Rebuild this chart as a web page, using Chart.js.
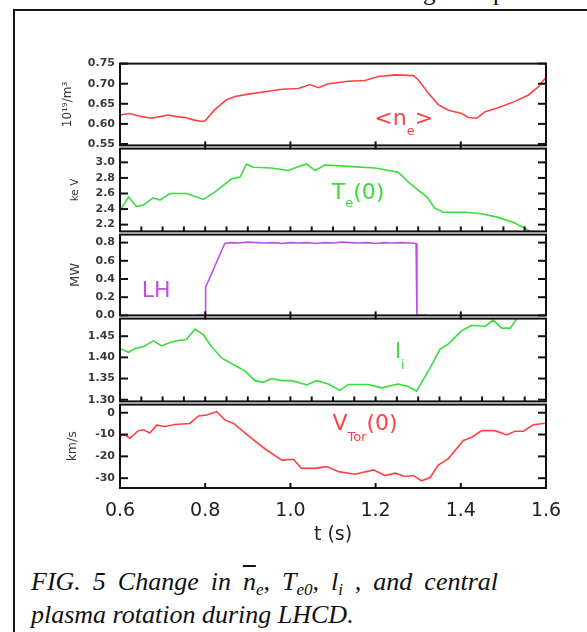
<!DOCTYPE html>
<html>
<head>
<meta charset="utf-8">
<script src="https://cdn.jsdelivr.net/npm/chart.js@4.4.1/dist/chart.umd.min.js"></script>
<style>
  html, body { margin: 0; padding: 0; background: #fff; }
  #wrap { position: relative; width: 587px; height: 632px; overflow: hidden; background: #fff; }
  .caption { position: absolute; left: 31px; top: 565px; font: italic 26px "Liberation Serif", "Times New Roman", serif; line-height: 33px; color: #111; white-space: nowrap; }
  .caption .l1 { width: 467px; text-align: justify; text-align-last: justify; white-space: normal; }
  .caption sub { font-size: 17px; line-height: 0; vertical-align: -5px; }
  .topt { position: absolute; top: -21px; font: 25px "Liberation Serif", serif; line-height: 25px; color: #111; }
</style>
</head>
<body>
<div id="wrap">
  <div style="position:absolute;left:13px;top:9px;width:574px;height:2px;background:#151515"></div>
  <div style="position:absolute;left:13px;top:9px;width:2px;height:623px;background:#151515"></div>
  <div class="topt" style="left:423px">g</div>
  <div class="topt" style="left:493px">p</div>
  <div class="caption"><div class="l1">FIG. 5 Change in <span style="text-decoration:overline">n</span><sub>e</sub>, T<sub>e0</sub>, l<sub>i</sub> , and central</div><div>plasma rotation during LHCD.</div></div>
</div>
<script>
// ---------- data ----------
const xTickVals = [0.6, 0.8, 1.0, 1.2, 1.4, 1.6];
const xMajorMarks = [0.8, 1.0, 1.2, 1.4];
const xMinorMarks = [0.65, 0.7, 0.75, 0.8, 0.85, 0.9, 0.95, 1.0, 1.05, 1.1, 1.15, 1.2, 1.25, 1.3, 1.35, 1.4, 1.45, 1.5, 1.55];

const neTicks = [0.55, 0.60, 0.65, 0.70, 0.75];
const teTicks = [2.2, 2.4, 2.6, 2.8, 3.0];
const lhTicks = [0.0, 0.2, 0.4, 0.6, 0.8];
const liTicks = [1.30, 1.35, 1.40, 1.45];
const vtTicks = [-30, -20, -10, 0];

const neT = [0.600,0.623,0.651,0.674,0.694,0.713,0.733,0.753,0.772,0.792,0.800,0.823,0.850,0.870,0.901,0.940,0.980,1.019,1.046,1.066,1.089,1.136,1.175,1.206,1.246,1.289,1.300,1.324,1.347,1.371,1.402,1.418,1.437,1.457,1.488,1.527,1.559,1.582,1.600];
const neV = [0.622,0.626,0.618,0.614,0.618,0.622,0.618,0.616,0.610,0.606,0.608,0.636,0.660,0.668,0.674,0.680,0.686,0.688,0.698,0.690,0.700,0.706,0.708,0.718,0.722,0.720,0.710,0.676,0.648,0.634,0.626,0.616,0.614,0.630,0.640,0.656,0.672,0.692,0.716];

const teT = [0.600,0.620,0.639,0.655,0.678,0.694,0.717,0.756,0.796,0.823,0.862,0.882,0.897,0.913,0.956,0.995,1.015,1.038,1.058,1.081,1.136,1.199,1.253,1.277,1.300,1.320,1.339,1.359,1.410,1.449,1.488,1.527,1.562,1.570];
const teV = [2.377,2.558,2.432,2.453,2.545,2.516,2.600,2.600,2.524,2.621,2.789,2.811,2.979,2.937,2.928,2.895,2.937,2.979,2.895,2.966,2.949,2.928,2.874,2.747,2.642,2.558,2.411,2.360,2.360,2.339,2.293,2.221,2.116,2.060];

const lhT = [0.780,0.800,0.801,0.846,0.860,0.880,0.900,0.920,0.940,0.960,0.980,1.000,1.020,1.040,1.060,1.080,1.100,1.120,1.140,1.160,1.180,1.200,1.220,1.240,1.260,1.280,1.295,1.297,1.320];
const lhV = [0.000,0.000,0.310,0.790,0.800,0.795,0.805,0.800,0.795,0.800,0.790,0.800,0.795,0.800,0.790,0.800,0.795,0.805,0.800,0.795,0.800,0.790,0.800,0.795,0.800,0.795,0.790,0.000,0.000];

const liT = [0.600,0.620,0.635,0.655,0.678,0.698,0.717,0.737,0.756,0.776,0.796,0.815,0.839,0.866,0.893,0.917,0.936,0.956,0.980,1.003,1.038,1.062,1.089,1.116,1.136,1.183,1.214,1.253,1.277,1.296,1.328,1.351,1.371,1.402,1.426,1.457,1.476,1.496,1.516,1.535,1.550];
const liV = [1.421,1.412,1.421,1.425,1.439,1.427,1.435,1.440,1.442,1.467,1.453,1.425,1.398,1.383,1.368,1.345,1.341,1.350,1.345,1.345,1.335,1.345,1.337,1.322,1.336,1.336,1.328,1.337,1.331,1.320,1.375,1.419,1.432,1.463,1.476,1.473,1.488,1.469,1.469,1.496,1.520];

const vtT = [0.600,0.612,0.623,0.643,0.655,0.670,0.686,0.706,0.729,0.764,0.784,0.803,0.827,0.846,0.866,0.901,0.940,0.980,1.007,1.026,1.058,1.085,1.113,1.152,1.195,1.222,1.246,1.269,1.289,1.308,1.328,1.347,1.371,1.406,1.426,1.449,1.480,1.508,1.527,1.547,1.570,1.598];
const vtV = [-10.5,-10.2,-11.7,-8.2,-7.8,-9.3,-5.7,-6.3,-5.4,-4.9,-1.5,-1.0,0.45,-3.3,-4.8,-10.5,-16.5,-21.7,-21.3,-25.5,-25.5,-24.7,-27.0,-28.2,-26.2,-28.8,-27.7,-29.2,-28.8,-31.2,-29.7,-24.0,-21.0,-12.7,-11.2,-8.2,-8.2,-10.2,-8.5,-8.5,-5.5,-4.8];

// ---------- layout / style ----------
const RED = '#ff4242', GREEN = '#3ade3a', PURPLE = '#c24ee4';
const FONT = 'DejaVu Sans';

const panels = [
  { top: 62, bottom: 147, min: 0.5465, max: 0.750, ticks: neTicks, dec: 2, title: '10\u00B9\u2079/m\u00B3', tsize: 12, tpad: 60.8,
    t: neT, v: neV, color: RED, marks: 'cross',
    label: { at: [1.197, 0.5965], color: RED, parts: [['<n', 22, 0], ['e', 13, 10], ['>', 22, 0]] } },
  { top: 147, bottom: 233, min: 2.113, max: 3.177, ticks: teTicks, dec: 1, title: 'ke V', tsize: 10.5, tpad: 68.7,
    t: teT, v: teV, color: GREEN, marks: 'minor',
    label: { at: [1.097, 2.525], color: GREEN, parts: [['T', 22, 0], ['e', 13, 8], ['(0)', 22, 0]] } },
  { top: 233, bottom: 317, min: 0, max: 0.888, ticks: lhTicks, dec: 1, title: 'MW', tsize: 13, tpad: 68.2,
    t: lhT, v: lhV, color: PURPLE, marks: 'cross',
    label: { at: [0.651, 0.20], color: PURPLE, parts: [['LH', 22, 0]] } },
  { top: 317, bottom: 403, min: 1.296, max: 1.4916, ticks: liTicks, dec: 2, title: '', tsize: 12, tpad: 60,
    t: liT, v: liV, color: GREEN, marks: 'minor',
    label: { at: [1.2455, 1.3984], color: GREEN, parts: [['l', 22, 0], ['i', 13, 11]] } },
  { top: 403, bottom: 488, min: -34.5, max: 3.73, ticks: vtTicks, dec: 0, title: 'km/s', tsize: 12.5, tpad: 65.5,
    t: vtT, v: vtV, color: RED, marks: 'up', showX: true,
    label: { at: [1.0986, -7.83], color: RED, parts: [['V', 22, 0], ['Tor', 13, 11], ['(0)', 22, 0]] } }
];

function line(ctx, x1, y1, x2, y2) { ctx.beginPath(); ctx.moveTo(x1, y1); ctx.lineTo(x2, y2); ctx.stroke(); }

function drawDeco(chart, cfg) {
  const { ctx, chartArea: a, scales: { x, y } } = chart;
  ctx.save();
  ctx.strokeStyle = '#111';
  ctx.lineWidth = 2;
  ctx.strokeRect(a.left, a.top, a.right - a.left, a.bottom - a.top);
  for (const v of cfg.ticks) {
    const py = y.getPixelForValue(v);
    line(ctx, a.left, py, a.left + 8, py);
    line(ctx, a.right - 8, py, a.right, py);
  }
  if (cfg.marks === 'cross') {
    for (const v of xMajorMarks) { const px = x.getPixelForValue(v); line(ctx, px, a.bottom - 4, px, a.bottom + 4); }
  } else if (cfg.marks === 'minor') {
    for (const v of xMinorMarks) { const px = x.getPixelForValue(v); line(ctx, px, a.bottom - 5, px, a.bottom); }
  } else {
    for (const v of xMajorMarks) { const px = x.getPixelForValue(v); line(ctx, px, a.bottom - 5, px, a.bottom); }
  }
  const L = cfg.label;
  let px = x.getPixelForValue(L.at[0]);
  const py = y.getPixelForValue(L.at[1]);
  ctx.fillStyle = L.color;
  ctx.textAlign = 'left';
  ctx.textBaseline = 'alphabetic';
  for (const [txt, size, dy] of L.parts) {
    ctx.font = size + 'px "' + FONT + '"';
    ctx.fillText(txt, px, py + dy);
    px += ctx.measureText(txt).width;
  }
  ctx.restore();
}

const wrap = document.getElementById('wrap');

panels.forEach(cfg => {
  const padT = 10;
  const padB = cfg.showX ? 0 : 10;
  const xH = cfg.showX ? 62 : 0;
  const h = padT + (cfg.bottom - cfg.top) + padB + xH;
  const cv = document.createElement('canvas');
  cv.width = 587; cv.height = h;
  cv.style.cssText = 'position:absolute;left:0;top:' + (cfg.top - padT) + 'px;width:587px;height:' + h + 'px';
  wrap.appendChild(cv);

  new Chart(cv, {
    type: 'line',
    data: {
      datasets: [{
        data: cfg.t.map((t, i) => ({ x: t, y: cfg.v[i] })),
        borderColor: cfg.color,
        borderWidth: 1.6,
        pointRadius: 0,
        tension: 0,
        fill: false
      }]
    },
    options: {
      responsive: false,
      animation: false,
      devicePixelRatio: 1,
      events: [],
      layout: { padding: { top: padT, bottom: padB, left: 0, right: 41 } },
      plugins: { legend: { display: false }, tooltip: { enabled: false }, title: { display: false } },
      scales: {
        x: {
          type: 'linear', min: 0.6, max: 1.6,
          display: !!cfg.showX,
          afterBuildTicks: s => { s.ticks = xTickVals.map(v => ({ value: v })); },
          afterFit: s => { s.height = xH; },
          grid: { display: false, drawTicks: false },
          border: { display: false },
          ticks: { font: { family: FONT, size: 19 }, color: '#222', padding: 11.3, maxRotation: 0, autoSkip: false,
                   callback: v => Number(v).toFixed(1) },
          title: { display: true, text: 't (s)', color: '#222', font: { family: FONT, size: 19 }, padding: { top: 0, bottom: 3.6 } }
        },
        y: {
          type: 'linear', min: cfg.min, max: cfg.max,
          afterBuildTicks: s => { s.ticks = cfg.ticks.map(v => ({ value: v })); },
          afterFit: s => { s.width = 120; },
          grid: { display: false, drawTicks: false },
          border: { display: false },
          ticks: { font: { family: FONT, size: 11, weight: 'bold' }, color: '#3a3a3a', padding: 5, autoSkip: false,
                   callback: v => Number(v).toFixed(cfg.dec) },
          title: { display: cfg.title !== '', text: cfg.title, color: '#3a3a3a', font: { family: FONT, size: cfg.tsize },
                   padding: { top: cfg.tpad, bottom: 0 } }
        }
      }
    },
    plugins: [{ id: 'deco', afterDraw: chart => drawDeco(chart, cfg) }]
  });
});
</script>
</body>
</html>
